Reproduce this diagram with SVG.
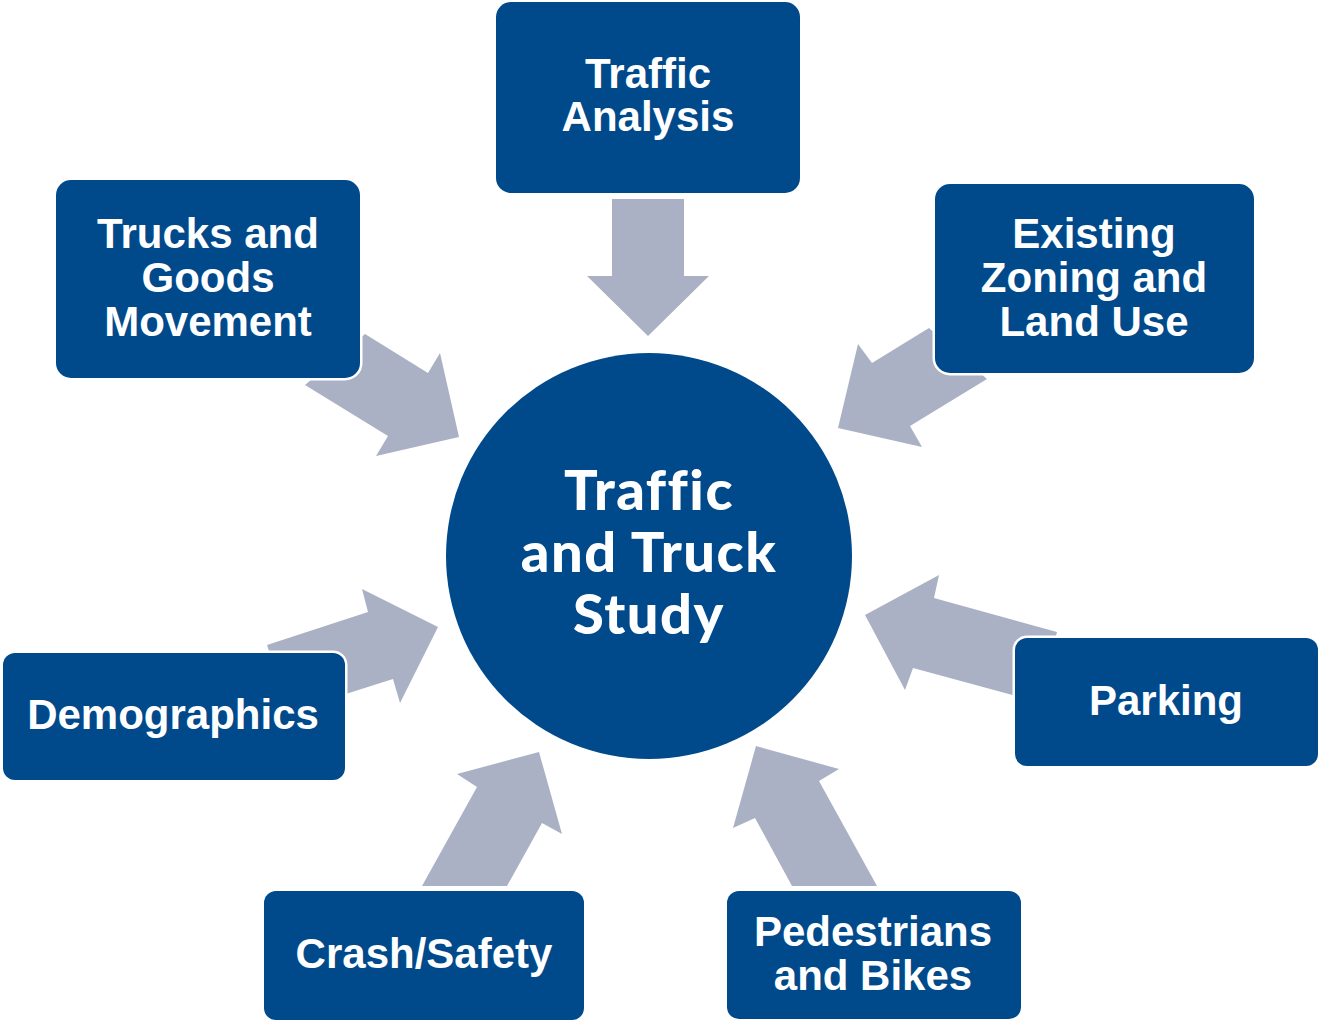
<svg xmlns="http://www.w3.org/2000/svg" width="1318" height="1021" viewBox="0 0 1318 1021">
<style>
.box{fill:#004a8c;stroke:#ffffff;stroke-width:5;paint-order:stroke}
.arr{fill:#abb1c5}
.lbl{font-family:"Liberation Sans",Arial,sans-serif;font-weight:bold;font-size:42px;fill:#ffffff;text-anchor:middle}
.hub{font-family:Lato,"Liberation Sans",sans-serif;font-weight:900;font-size:56px;letter-spacing:1.5px;fill:#ffffff;text-anchor:middle;font-variant-ligatures:none;font-feature-settings:"liga" 0}
</style>
<rect width="1318" height="1021" fill="#ffffff"/>
<g id="connectors">
<polygon class="arr" points="612,199 684,199 684,276 709,276 648,336 587,276 612,276"/>
<polygon class="arr" points="365,334 428,373 440,353 459,437 376,456 388,436 305,385"/>
<polygon class="arr" points="929,328 872,363 858,344 838,428 922,447 910,426 987,379"/>
<polygon class="arr" points="267,645 368,612 362,589 438,627 400,703 393,679 289,712"/>
<polygon class="arr" points="1057,632 934,598 939,575 865,615 905,690 913,668 1038,702"/>
<polygon class="arr" points="539,752 562,834 542,823 507,886 422,886 477,787 457,774"/>
<polygon class="arr" points="756,746 839,769 819,781 877,886 792,886 755,818 733,828"/>
</g>
<g id="hub">
<circle cx="649" cy="556" r="203" fill="#004a8c"/>
<text class="hub" x="649" y="510">Traffic</text>
<text class="hub" x="649" y="572">and Truck</text>
<text class="hub" x="649" y="634">Study</text>
</g>
<g id="traffic-analysis">
<rect class="box" x="496" y="2" width="304" height="191" rx="15"/>
<text class="lbl" x="648" y="88">Traffic</text>
<text class="lbl" x="648" y="131">Analysis</text>
</g>
<g id="trucks">
<rect class="box" x="56" y="180" width="304" height="198" rx="15"/>
<text class="lbl" x="208" y="248">Trucks and</text>
<text class="lbl" x="208" y="292">Goods</text>
<text class="lbl" x="208" y="336">Movement</text>
</g>
<g id="zoning">
<rect class="box" x="935" y="184" width="319" height="189" rx="15"/>
<text class="lbl" x="1094" y="248">Existing</text>
<text class="lbl" x="1094" y="292">Zoning and</text>
<text class="lbl" x="1094" y="336">Land Use</text>
</g>
<g id="demographics">
<rect class="box" x="3" y="653" width="342" height="127" rx="12"/>
<text class="lbl" x="173" y="729">Demographics</text>
</g>
<g id="parking">
<rect class="box" x="1015" y="638" width="303" height="128" rx="12"/>
<text class="lbl" x="1166" y="715">Parking</text>
</g>
<g id="crash">
<rect class="box" x="264" y="891" width="320" height="129" rx="12"/>
<text class="lbl" x="424" y="968">Crash/Safety</text>
</g>
<g id="pedestrians">
<rect class="box" x="727" y="891" width="294" height="128" rx="12"/>
<text class="lbl" x="873" y="946">Pedestrians</text>
<text class="lbl" x="873" y="990">and Bikes</text>
</g>
</svg>
